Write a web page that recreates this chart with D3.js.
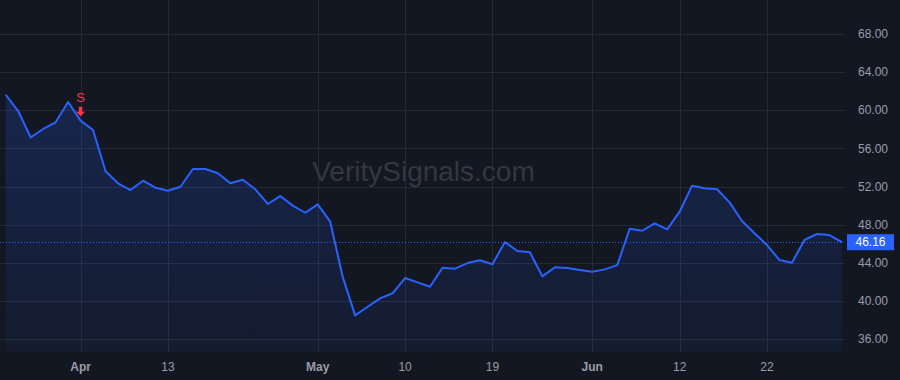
<!DOCTYPE html>
<html>
<head>
  <meta charset="utf-8">
  <style>
    body { margin: 0; background: #131722; }
    svg { display: block; font-family: "Liberation Sans", Arial, sans-serif; }
    .grid line { stroke: #252934; stroke-width: 1px; shape-rendering: crispEdges; }
    .line { fill: none; stroke: #2962ff; stroke-width: 2px; stroke-linejoin: round; }
    .ylab, .xlab { fill: #9a9da6; font-size: 12px; }
  </style>
</head>
<body>
  <svg width="900" height="380"></svg>
  <script src="https://cdn.jsdelivr.net/npm/d3@7/dist/d3.min.js"></script>
  <script>

  // daily closes, one per session
  var prices = [61.63, 59.92, 57.16, 58.04, 58.74, 60.87, 58.91, 57.93, 53.60, 52.34,
                51.63, 52.61, 51.88, 51.56, 51.98, 53.84, 53.84, 53.39, 52.34, 52.72,
                51.71, 50.17, 51.00, 50.00, 49.25, 50.13, 48.31, 42.54, 38.48, 39.39,
                40.27, 40.80, 42.40, 41.95, 41.49, 43.48, 43.38, 43.97, 44.26, 43.84,
                46.18, 45.23, 45.10, 42.58, 43.52, 43.45, 43.24, 43.06, 43.31, 43.76,
                47.57, 47.36, 48.14, 47.51, 49.36, 52.09, 51.81, 51.71, 50.34, 48.38,
                47.09, 45.86, 44.29, 44.01, 46.39, 47.02, 46.91, 46.16];

  // x tick labels (session index -> label)
  var tickIndex = [6, 13, 25, 32, 39, 47, 54, 61];
  var tickLabels = ["Apr", "13", "May", "10", "19", "Jun", "12", "22"];
  var monthLabels = ["Apr", "May", "Jun"];

  var yTicks = [36, 40, 44, 48, 52, 56, 60, 64, 68];

  // sell signal
  var signalIndex = 6;
  var signalText = "S";

  var lastPrice = 46.16;
  var watermark = "VeritySignals.com";

  var svg = d3.select("svg"),
      plotW = 845,
      plotH = 352;

  var x = d3.scaleLinear().domain([-0.457, 67.25]).range([0, plotW]),
      y = d3.scaleLinear().domain([34.64, 71.57]).range([plotH, 0]);

  var defs = svg.append("defs");
  var grad = defs.append("linearGradient")
      .attr("id", "fillGrad")
      .attr("gradientUnits", "userSpaceOnUse")
      .attr("x1", 0).attr("x2", 0)
      .attr("y1", y(d3.max(prices))).attr("y2", plotH);
  grad.append("stop").attr("offset", "0%").attr("stop-color", "#2962ff").attr("stop-opacity", 0.2);
  grad.append("stop").attr("offset", "100%").attr("stop-color", "#2962ff").attr("stop-opacity", 0.06);

  // grid
  var grid = svg.append("g").attr("class", "grid");
  grid.selectAll(".h").data(yTicks).enter().append("line")
      .attr("x1", 0).attr("x2", plotW)
      .attr("y1", function(d) { return Math.round(y(d)) + 0.5; })
      .attr("y2", function(d) { return Math.round(y(d)) + 0.5; });
  grid.selectAll(".v").data(tickIndex).enter().append("line")
      .attr("y1", 0).attr("y2", plotH)
      .attr("x1", function(d) { return Math.round(x(d)) + 0.5; })
      .attr("x2", function(d) { return Math.round(x(d)) + 0.5; });

  // watermark
  svg.append("text")
      .attr("x", plotW / 2 + 1)
      .attr("y", 181)
      .attr("text-anchor", "middle")
      .style("font-size", "28px")
      .style("fill", "#33373f")
      .text(watermark);

  var area = d3.area()
      .x(function(d, i) { return x(i); })
      .y0(plotH)
      .y1(function(d) { return y(d); });

  var line = d3.line()
      .x(function(d, i) { return x(i); })
      .y(function(d) { return y(d); });

  svg.append("path")
      .datum(prices)
      .attr("d", area)
      .attr("fill", "url(#fillGrad)");

  // last price dotted line
  svg.append("line")
      .attr("x1", 0).attr("x2", plotW)
      .attr("y1", Math.round(y(lastPrice)) + 0.5)
      .attr("y2", Math.round(y(lastPrice)) + 0.5)
      .attr("stroke", "#2962ff")
      .attr("stroke-width", 1)
      .attr("stroke-dasharray", "1,2");

  svg.append("path")
      .datum(prices)
      .attr("class", "line")
      .attr("d", line);

  // signal marker
  var sx = x(signalIndex), sy = y(prices[signalIndex]);
  var sig = svg.append("g").attr("transform", "translate(" + sx + "," + sy + ")");
  sig.append("path")
      .attr("d", "M-1.8,-14 L1.8,-14 L1.8,-9 L4.5,-9 L0,-4.5 L-4.5,-9 L-1.8,-9 Z")
      .attr("fill", "#f23645");
  sig.append("text")
      .attr("y", -18.5)
      .attr("text-anchor", "middle")
      .style("font-size", "13px")
      .style("fill", "#f23645")
      .text(signalText);

  // y axis labels
  svg.selectAll(".ylab").data(yTicks).enter().append("text")
      .attr("class", "ylab")
      .attr("x", 858)
      .attr("y", function(d) { return y(d); })
      .attr("dy", "0.35em")
      .text(function(d) { return d3.format(".2f")(d); });

  // last price label
  var ly = y(lastPrice);
  svg.append("rect")
      .attr("x", 847).attr("y", ly - 8)
      .attr("width", 47).attr("height", 16)
      .attr("fill", "#2962ff");
  svg.append("text")
      .attr("x", 870.5).attr("y", ly)
      .attr("dy", "0.35em")
      .attr("text-anchor", "middle")
      .style("font-size", "12px")
      .style("fill", "#ffffff")
      .text(d3.format(".2f")(lastPrice));

  // x axis labels
  svg.selectAll(".xlab").data(tickIndex).enter().append("text")
      .attr("class", "xlab")
      .attr("x", function(d) { return x(d); })
      .attr("y", 367)
      .attr("dy", "0.35em")
      .attr("text-anchor", "middle")
      .style("font-weight", function(d, i) { return monthLabels.indexOf(tickLabels[i]) >= 0 ? "bold" : "normal"; })
      .text(function(d, i) { return tickLabels[i]; });

  </script>
</body>
</html>
